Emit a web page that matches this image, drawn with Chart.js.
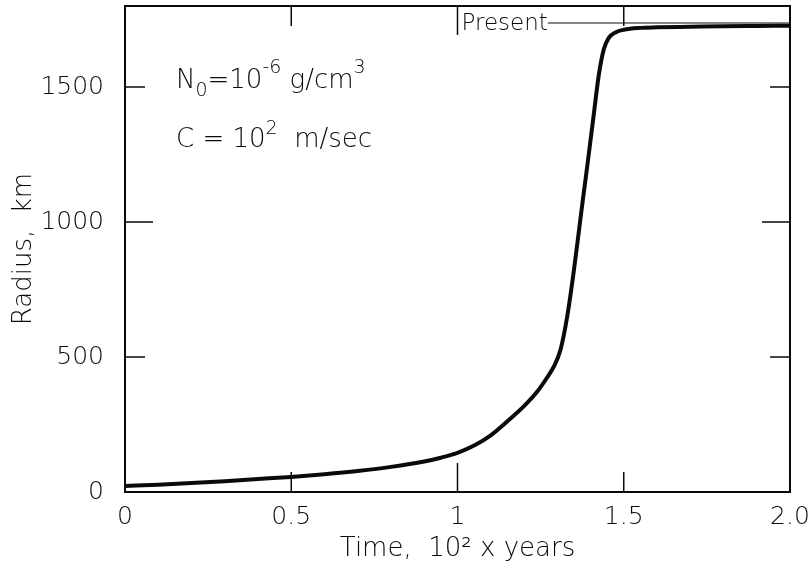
<!DOCTYPE html>
<html>
<head>
<meta charset="utf-8">
<script src="https://cdn.jsdelivr.net/npm/chart.js@4.4.1/dist/chart.umd.min.js"></script>
<style>
  body { margin: 0; background: #fff; }
  canvas { display: block; }
</style>
</head>
<body>
<canvas id="radiusChart" width="811" height="577"></canvas>
<script>
// curve: time (10^2 yr) vs radius (km)
const timeValues = [0, 0.1, 0.2, 0.3, 0.4, 0.5, 0.6, 0.7, 0.8, 0.9, 0.95, 1.0, 1.05, 1.1, 1.15, 1.2, 1.24, 1.27, 1.29, 1.31, 1.33, 1.35, 1.37, 1.39, 1.41, 1.425, 1.44, 1.455, 1.475, 1.5, 1.55, 1.6, 1.7, 1.8, 1.9, 2.0];
const radiusValues = [22, 27, 33, 40, 48, 56, 66, 78, 93, 113, 127, 145, 172, 210, 262, 318, 372, 425, 465, 528, 650, 820, 1015, 1205, 1400, 1545, 1640, 1682, 1702, 1712, 1719, 1721, 1723, 1725, 1726, 1727];

const xTicks = [0, 0.5, 1, 1.5, 2];
const xTickLabels = ['0', '0.5', '1', '1.5', '2.0'];
const yTicks = [0, 500, 1000, 1500];
const yTickLabels = ['0', '500', '1000', '1500'];

const presentTime = 1.0;
const presentRadius = 1737;

const FONT = "'DejaVu Sans', 'Liberation Sans', sans-serif";
const INK = '#0a0a0a';

function font(size) {
  return { family: FONT, size: size, weight: 200 };
}

// box, inward ticks and the "Present" marker
const frameAndTicks = {
  id: 'frameAndTicks',
  afterDatasetsDraw(chart) {
    const { ctx, chartArea: a, scales: { x, y } } = chart;
    ctx.save();
    ctx.strokeStyle = INK;
    ctx.lineWidth = 2;
    ctx.strokeRect(a.left, a.top, a.right - a.left, a.bottom - a.top);

    ctx.lineWidth = 1.5;
    ctx.beginPath();
    xTicks.slice(1, -1).forEach(v => {
      const px = x.getPixelForValue(v);
      const len = v === 1 ? 29 : 20;
      ctx.moveTo(px, a.bottom); ctx.lineTo(px, a.bottom - len);
      ctx.moveTo(px, a.top); ctx.lineTo(px, a.top + len);
    });
    yTicks.slice(1).forEach(v => {
      const py = y.getPixelForValue(v);
      const len = v === 1000 ? 28 : 20;
      ctx.moveTo(a.left, py); ctx.lineTo(a.left + len, py);
      ctx.moveTo(a.right, py); ctx.lineTo(a.right - len, py);
    });
    ctx.stroke();

    // Present label and level line
    const px = x.getPixelForValue(presentTime);
    const py = y.getPixelForValue(presentRadius);
    ctx.font = "200 23px " + FONT;
    ctx.fillStyle = INK;
    ctx.textBaseline = 'alphabetic';
    ctx.fillText('Present', px + 4, py + 7);
    const tw = ctx.measureText('Present').width;
    ctx.lineWidth = 1.2;
    ctx.beginPath();
    ctx.moveTo(px + 4 + tw, py);
    ctx.lineTo(a.right, py);
    ctx.stroke();
    ctx.restore();
  }
};

// parameter notes with sub/superscripts
function drawRich(ctx, parts, x, y) {
  parts.forEach(p => {
    const size = p.shift ? 19 : 26;
    ctx.font = "200 " + size + "px " + FONT;
    ctx.fillText(p.t, x, y + (p.shift || 0));
    x += ctx.measureText(p.t).width;
  });
}

const notes = {
  id: 'notes',
  afterDraw(chart) {
    const ctx = chart.ctx;
    ctx.save();
    ctx.fillStyle = INK;
    ctx.textBaseline = 'alphabetic';
    drawRich(ctx, [
      { t: 'N' }, { t: '0', shift: 8 }, { t: '=10' }, { t: '-6', shift: -15 },
      { t: ' g/cm' }, { t: '3', shift: -15 }
    ], 176, 88);
    drawRich(ctx, [
      { t: 'C = 10' }, { t: '2', shift: -13 }, { t: '  m/sec' }
    ], 176, 147);
    ctx.restore();
  }
};

new Chart(document.getElementById('radiusChart'), {
  type: 'line',
  data: {
    datasets: [{
      data: timeValues.map((t, i) => ({ x: t, y: radiusValues[i] })),
      borderColor: INK,
      borderWidth: 4,
      pointRadius: 0,
      cubicInterpolationMode: 'monotone',
      fill: false
    }]
  },
  options: {
    responsive: false,
    animation: false,
    layout: { padding: { top: 6, right: 21, left: 0, bottom: 0 } },
    plugins: { legend: { display: false }, tooltip: { enabled: false } },
    scales: {
      x: {
        type: 'linear',
        min: 0,
        max: 2,
        afterFit(s) { s.height = 85; s.paddingLeft = 0; s.paddingRight = 0; },
        afterBuildTicks(s) { s.ticks = xTicks.map(v => ({ value: v })); },
        grid: { display: false, drawTicks: false },
        border: { display: false },
        ticks: {
          callback: v => xTickLabels[xTicks.indexOf(v)],
          font: font(25), color: INK, padding: 10, maxRotation: 0, autoSkip: false
        },
        title: {
          display: true, text: 'Time,  10\u00B2 x years',
          font: font(26), color: INK, padding: { top: 0, bottom: 12 }
        }
      },
      y: {
        min: 0,
        max: 1800,
        afterFit(s) { s.width = 125; s.paddingTop = 0; s.paddingBottom = 0; },
        afterBuildTicks(s) { s.ticks = yTicks.map(v => ({ value: v })); },
        grid: { display: false, drawTicks: false },
        border: { display: false },
        ticks: {
          callback: v => yTickLabels[yTicks.indexOf(v)],
          font: font(25), color: INK, padding: 21
        },
        title: {
          display: true, text: 'Radius,  km',
          font: font(26), color: INK, padding: { top: 9, bottom: 0 }
        }
      }
    }
  },
  plugins: [frameAndTicks, notes]
});
</script>
</body>
</html>
